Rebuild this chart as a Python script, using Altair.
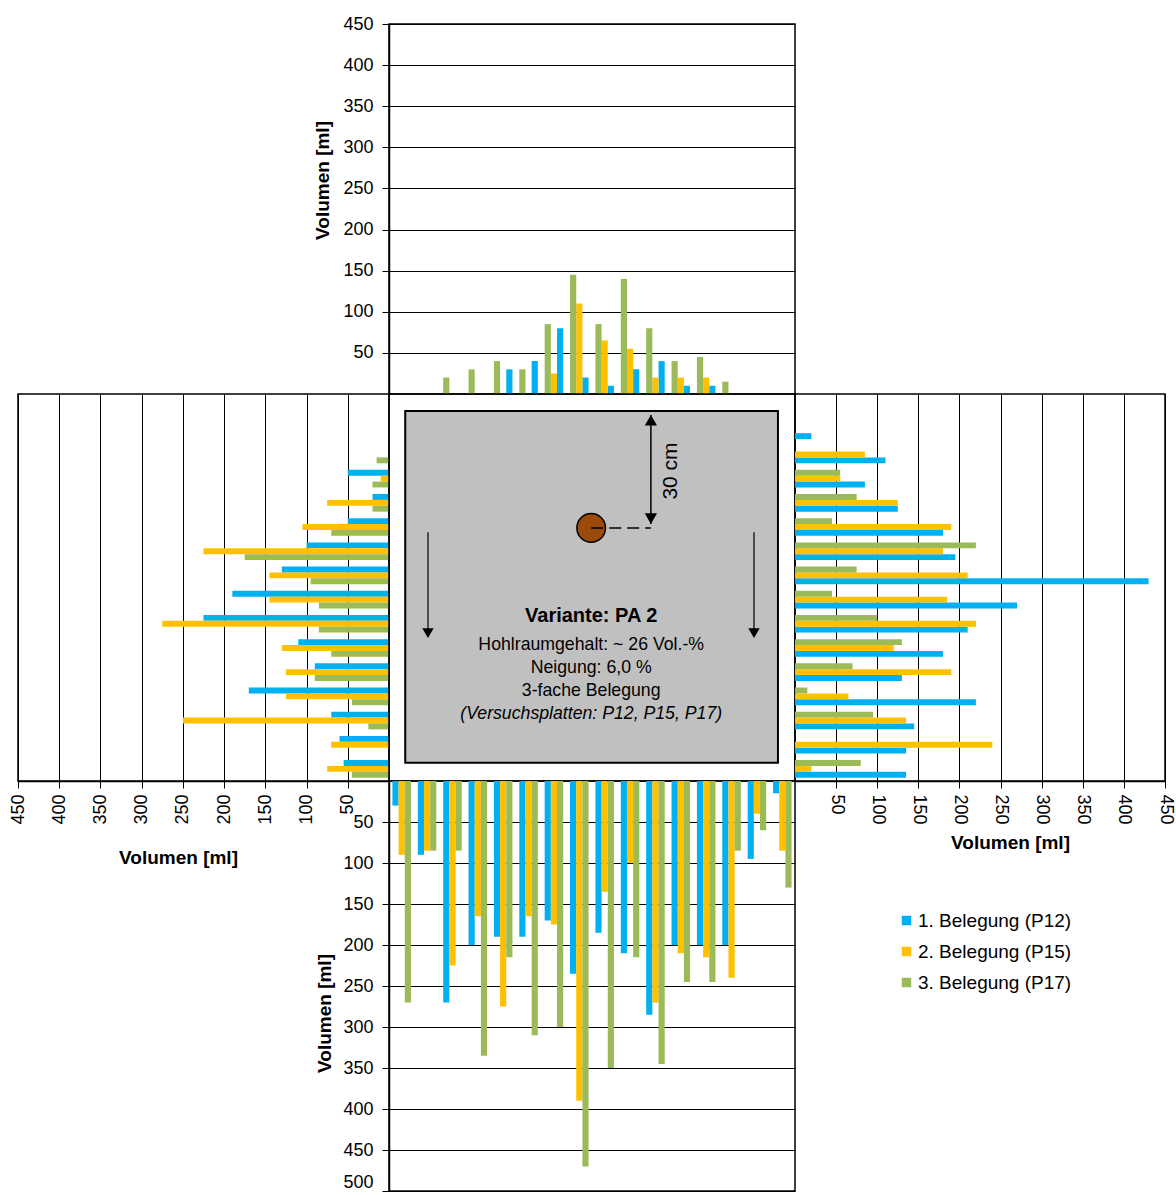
import altair as alt
import pandas as pd

# ---------------- data ----------------
groups = list(range(1, 17))
series = ["1. Belegung (P12)", "2. Belegung (P15)", "3. Belegung (P17)"]
series_colors = ["#00B0F0", "#FFC000", "#9BBB59"]

top_p12 = [0, 0, 0, 0, 30, 40, 80, 20, 10, 30, 40, 10, 10, 0, 0, 0]
top_p15 = [0, 0, 0, 0, 0, 0, 25, 110, 65, 55, 20, 20, 20, 0, 0, 0]
top_p17 = [0, 0, 20, 30, 40, 30, 85, 145, 85, 140, 80, 40, 45, 15, 0, 0]

bottom_p12 = [30, 90, 270, 200, 190, 190, 170, 235, 185, 210, 285, 200, 200, 200, 95, 15]
bottom_p15 = [90, 85, 225, 165, 275, 165, 175, 390, 135, 100, 270, 210, 215, 240, 40, 85]
bottom_p17 = [270, 85, 85, 335, 215, 310, 300, 470, 350, 215, 345, 245, 245, 85, 60, 130]

left_p12 = [0, 0, 0, 50, 20, 50, 100, 130, 190, 225, 110, 90, 170, 70, 60, 55]
left_p15 = [0, 0, 0, 10, 75, 105, 225, 145, 145, 275, 130, 125, 125, 250, 70, 75]
left_p17 = [0, 0, 15, 20, 20, 70, 175, 95, 85, 85, 70, 90, 45, 25, 0, 45]

right_p12 = [0, 20, 110, 85, 125, 180, 195, 430, 270, 210, 180, 130, 220, 145, 135, 135]
right_p15 = [0, 0, 85, 55, 125, 190, 180, 210, 185, 220, 120, 190, 65, 135, 240, 20]
right_p17 = [0, 0, 0, 55, 75, 45, 220, 75, 45, 100, 130, 70, 15, 95, 0, 80]

ticks_450 = [50, 100, 150, 200, 250, 300, 350, 400, 450]
ticks_500 = [50, 100, 150, 200, 250, 300, 350, 400, 450, 500]

axis_title = "Volumen [ml]"

# schematic of the test plate (panel units 0..100)
plate_box = {"x": [4.0], "x2": [95.8], "y": [4.4], "y2": [95.3]}
inlet = {"x": [49.8], "y": [34.6]}
dim_dash = {"x": [49.8], "x2": [64.5], "y": [34.6]}
dim_line = {"x": [64.5], "y": [5.4], "y2": [33.6]}
dim_heads = {"x": [64.5, 64.5], "y": [6.8, 32.2], "form": ["triangle-up", "triangle-down"]}
dim_label = {"x": [69.4], "y": [19.9], "text": ["30 cm"]}
flow_lines = {"x": [9.6, 89.9], "y": [35.7, 35.7], "y2": [62.0, 62.0]}
flow_heads = {"x": [9.6, 89.9], "y": [61.8, 61.8], "form": ["triangle-down", "triangle-down"]}
title_line = {"x": [49.8], "y": [57.4], "text": ["Variante: PA 2"]}
info_lines = {"x": [49.8, 49.8, 49.8], "y": [64.9, 70.8, 76.7],
              "text": ["Hohlraumgehalt: ~ 26 Vol.-%", "Neigung: 6,0 %", "3-fache Belegung"]}
italic_line = {"x": [49.8], "y": [82.7], "text": ["(Versuchsplatten: P12, P15, P17)"]}

FONT = "Liberation Sans"


def frame(p12, p15, p17):
    rows = []
    for i, g in enumerate(groups):
        for s, vals in zip(series, (p12, p15, p17)):
            rows.append({"Gruppe": g, "Serie": s, "Volumen": vals[i]})
    return pd.DataFrame(rows)


color_scale = alt.Scale(domain=series, range=series_colors)
band = dict(domain=groups, paddingInner=0.27, paddingOuter=0.135)

axis_common = dict(
    grid=True, gridColor="black", gridWidth=1, domainColor="black", domainWidth=1.5,
    tickColor="black", tickSize=7, labelFontSize=18, labelColor="black", labelFont=FONT,
    titleFontSize=19, titleFont=FONT, titleFontWeight="bold", titleColor="black",
)

# ---------------- top panel ----------------
top = alt.Chart(frame(top_p12, top_p15, top_p17)).transform_filter(
    "datum.Volumen > 0"
).mark_bar().encode(
    x=alt.X("Gruppe:O", axis=None, scale=alt.Scale(**band)),
    xOffset=alt.XOffset("Serie:N", scale=alt.Scale(domain=series[::-1])),
    y=alt.Y("Volumen:Q", scale=alt.Scale(domain=[0, 450], nice=False),
            axis=alt.Axis(values=ticks_450, title=axis_title, titleY=156, titlePadding=10,
                          labelPadding=9, **axis_common)),
    color=alt.Color("Serie:N", scale=color_scale, legend=None),
).properties(width=406, height=370)

# ---------------- bottom panel ----------------
bottom = alt.Chart(frame(bottom_p12, bottom_p15, bottom_p17)).transform_filter(
    "datum.Volumen > 0"
).mark_bar().encode(
    x=alt.X("Gruppe:O", axis=None, scale=alt.Scale(**band)),
    xOffset=alt.XOffset("Serie:N", scale=alt.Scale(domain=series)),
    y=alt.Y("Volumen:Q", scale=alt.Scale(domain=[0, 500], nice=False, reverse=True),
            axis=alt.Axis(values=ticks_500, title=axis_title, titleY=232, titlePadding=8,
                          labelPadding=9,
                          labelOffset={"condition": {"test": "datum.value == 500", "value": -9}, "value": 0},
                          **axis_common)),
    color=alt.Color("Serie:N", scale=color_scale,
                    legend=alt.Legend(orient="none", legendX=508, legendY=130, title=None,
                                      symbolType="square", symbolSize=90, symbolStrokeWidth=0,
                                      labelFontSize=19, labelFont=FONT, labelColor="black",
                                      rowPadding=11, labelOffset=2)),
).properties(width=406, height=410)

# ---------------- left panel ----------------
left = alt.Chart(frame(left_p12, left_p15, left_p17)).transform_filter(
    "datum.Volumen > 0"
).mark_bar().encode(
    y=alt.Y("Gruppe:O", axis=None, scale=alt.Scale(**band)),
    yOffset=alt.YOffset("Serie:N", scale=alt.Scale(domain=series)),
    x=alt.X("Volumen:Q", scale=alt.Scale(domain=[0, 450], nice=False, reverse=True),
            axis=alt.Axis(values=ticks_450, title=axis_title, labelAngle=270, labelPadding=6,
                          titleX=160, titlePadding=24, **axis_common)),
    color=alt.Color("Serie:N", scale=color_scale, legend=None),
).properties(width=371, height=387)

# ---------------- right panel ----------------
right = alt.Chart(frame(right_p12, right_p15, right_p17)).transform_filter(
    "datum.Volumen > 0"
).mark_bar().encode(
    y=alt.Y("Gruppe:O", axis=None, scale=alt.Scale(**band)),
    yOffset=alt.YOffset("Serie:N", scale=alt.Scale(domain=series[::-1])),
    x=alt.X("Volumen:Q", scale=alt.Scale(domain=[0, 450], nice=False),
            axis=alt.Axis(values=ticks_450, title=axis_title, labelAngle=90, labelPadding=6,
                          titleX=215, titlePadding=9, **axis_common)),
    color=alt.Color("Serie:N", scale=color_scale, legend=None),
).properties(width=370, height=387)

# ---------------- centre schematic ----------------
sx = alt.Scale(domain=[0, 100], nice=False)
sy = alt.Scale(domain=[0, 100], nice=False, reverse=True)


def X(f):
    return alt.X(f, scale=sx, axis=None)


def Y(f):
    return alt.Y(f, scale=sy, axis=None)


box = alt.Chart(pd.DataFrame(plate_box)).mark_rect(
    fill="#C0C0C0", stroke="black", strokeWidth=2
).encode(x=X("x:Q"), x2="x2:Q", y=Y("y:Q"), y2="y2:Q")

circle = alt.Chart(pd.DataFrame(inlet)).mark_point(
    shape="circle", filled=True, fill="#9A4A0B", stroke="black", strokeWidth=1.5, size=820, opacity=1
).encode(x=X("x:Q"), y=Y("y:Q"))

dash = alt.Chart(pd.DataFrame(dim_dash)).mark_rule(
    color="black", strokeWidth=1.5, strokeDash=[12, 6]
).encode(x=X("x:Q"), x2="x2:Q", y=Y("y:Q"))

dimline = alt.Chart(pd.DataFrame(dim_line)).mark_rule(color="black", strokeWidth=1.5).encode(
    x=X("x:Q"), y=Y("y:Q"), y2="y2:Q")

dimheads = alt.Chart(pd.DataFrame(dim_heads)).mark_point(
    filled=True, color="black", size=150, opacity=1
).encode(x=X("x:Q"), y=Y("y:Q"), shape=alt.Shape("form:N", scale=None))

dimlabel = alt.Chart(pd.DataFrame(dim_label)).mark_text(
    angle=270, fontSize=21, font=FONT, color="black", align="center", baseline="middle"
).encode(x=X("x:Q"), y=Y("y:Q"), text="text:N")

flowlines = alt.Chart(pd.DataFrame(flow_lines)).mark_rule(color="black", strokeWidth=1.2).encode(
    x=X("x:Q"), y=Y("y:Q"), y2="y2:Q")

flowheads = alt.Chart(pd.DataFrame(flow_heads)).mark_point(
    filled=True, color="black", size=130, opacity=1
).encode(x=X("x:Q"), y=Y("y:Q"), shape=alt.Shape("form:N", scale=None))

ttl = alt.Chart(pd.DataFrame(title_line)).mark_text(
    fontSize=20, fontWeight="bold", font=FONT, color="black", baseline="middle"
).encode(x=X("x:Q"), y=Y("y:Q"), text="text:N")

info = alt.Chart(pd.DataFrame(info_lines)).mark_text(
    fontSize=17.7, font=FONT, color="black", baseline="middle"
).encode(x=X("x:Q"), y=Y("y:Q"), text="text:N")

ital = alt.Chart(pd.DataFrame(italic_line)).mark_text(
    fontSize=17.7, font=FONT, fontStyle="italic", color="black", baseline="middle"
).encode(x=X("x:Q"), y=Y("y:Q"), text="text:N")

center = alt.layer(box, flowlines, flowheads, circle, dash, dimline, dimheads, dimlabel, ttl, info, ital
                   ).properties(width=406, height=387)


# ---------------- spacers ----------------
def spacer(w, h):
    return alt.Chart(pd.DataFrame({"a": [0]})).mark_point(opacity=0).encode(
        x=alt.value(0), y=alt.value(0)
    ).properties(width=w, height=h, view=alt.ViewBackground(stroke="transparent"))


chart = alt.concat(
    spacer(371, 370), top, spacer(370, 370),
    left, center, right,
    spacer(371, 410), bottom, spacer(370, 410),
    columns=3, spacing=0, bounds="flush",
).resolve_scale(
    xOffset="independent", yOffset="independent"
).resolve_legend(color="independent").properties(
    padding={"left": 8, "top": 14, "right": 0, "bottom": 0}
).configure(font=FONT).configure_view(stroke="black", strokeWidth=1.5)

chart.save("out.html", embed_options={"renderer": "svg", "actions": False})
